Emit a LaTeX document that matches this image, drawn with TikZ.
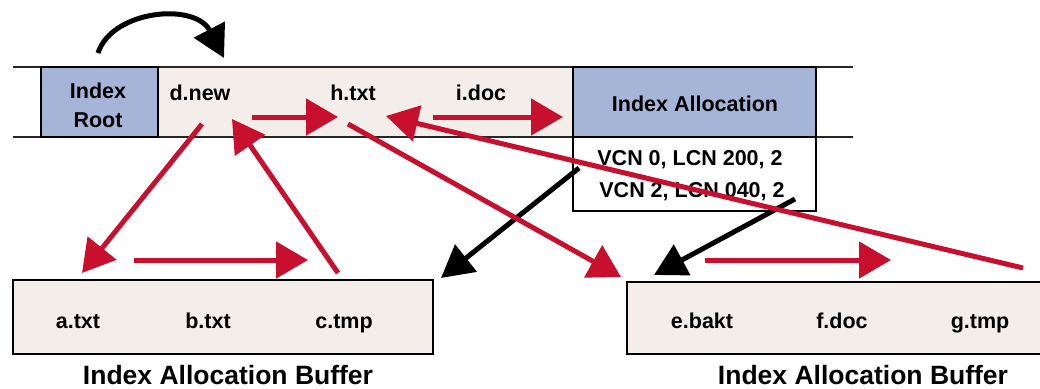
\documentclass[tikz,border=0pt]{standalone}
\usepackage{fontspec}
\setmainfont{Liberation Sans}
\usetikzlibrary{arrows.meta}
\definecolor{rootblue}{HTML}{A4B5D7}
\definecolor{beigefill}{HTML}{F3EEE9}
\definecolor{arrred}{HTML}{C8102E}
\begin{document}
\begin{tikzpicture}[x=1pt,y=-1pt,
  txt/.style={inner sep=0pt, anchor=base, font=\bfseries\fontsize{21.5}{26}\selectfont},
  caption/.style={inner sep=0pt, anchor=base, font=\bfseries\fontsize{26.5}{30}\selectfont},
  cell/.style={draw=black, line width=1.5pt, inner sep=0pt},
  band/.style={draw=black!85, line width=2pt},
  redarrow/.style={draw=arrred, line width=5pt, -{Triangle[length=32pt,width=36pt]}},
  blackarrow/.style={draw=black, line width=5pt, -{Triangle[length=32pt,width=34pt]}}]
\useasboundingbox (0,0) rectangle (1040,388);
% top band
\node[fill=beigefill, minimum width=415pt, minimum height=70pt, inner sep=0pt] (mid) at (365.5,102) {};
\draw[band] (13,67) -- (853,67);
\draw[band] (13,137) -- (853,137);
\node[cell, fill=rootblue, minimum width=117pt, minimum height=70pt] (root) at (99.5,102) {};
\node[cell, fill=rootblue, minimum width=243pt, minimum height=70pt] (ia) at (694.5,102) {};
\node[cell, fill=white, minimum width=243pt, minimum height=74pt] (vcn) at (694.5,174) {};
\node[txt] (rootA) at (98,98) {Index};
\node[txt] (rootB) at (98,127) {Root};
\node[txt] (iatxt) at (695,111) {Index Allocation};
\node[txt] (vcnA) at (690,165) {VCN 0, LCN 200, 2};
\node[txt] (vcnB) at (692,197) {VCN 2, LCN 040, 2};
\node[txt] (dnew) at (200,100) {d.new};
\node[txt] (htxt) at (353,100) {h.txt};
\node[txt] (idoc) at (481,100) {i.doc};
% bottom buffers
\node[cell, fill=beigefill, minimum width=420pt, minimum height=74pt] (bufL) at (223,317) {};
\node[txt] (atxt) at (78,328) {a.txt};
\node[txt] (btxt) at (208,328) {b.txt};
\node[txt] (ctmp) at (344,328) {c.tmp};
\node[caption] (capL) at (228,384) {Index Allocation Buffer};
\node[cell, fill=beigefill, minimum width=418pt, minimum height=72pt] (bufR) at (836,318) {};
\node[txt] (ebakt) at (702,328) {e.bakt};
\node[txt] (fdoc) at (842,328) {f.doc};
\node[txt] (gtmp) at (980,328) {g.tmp};
\node[caption] (capR) at (863,384) {Index Allocation Buffer};
% endpoints
\coordinate (rootTop) at (98,53);
\coordinate (dnewIn) at (224,58);
\coordinate (dnewOut) at (202,124);
\coordinate (aIn) at (82,273);
\coordinate (cOut) at (338,273);
\coordinate (dnewIn2) at (232,119);
\coordinate (aOut) at (134,260);
\coordinate (cIn) at (308,260);
\coordinate (dnewR) at (252,117);
\coordinate (htxtL) at (338,117);
\coordinate (idocR) at (433,117);
\coordinate (iaL) at (563,117);
\coordinate (gOut) at (1023,268);
\coordinate (htxtR) at (386,116);
\coordinate (htxtOut) at (348,124);
\coordinate (eIn) at (621,277);
\coordinate (eOut) at (705,260);
\coordinate (fIn) at (891,260);
\coordinate (vcn0) at (579,168);
\coordinate (bufLIn) at (441,278);
\coordinate (vcn2) at (795,199);
\coordinate (bufRIn) at (654,275);
% black arrows
\draw[blackarrow] (rootTop) .. controls (112,10) and (195,2) .. (dnewIn);
\draw[blackarrow] (vcn0) -- (bufLIn);
\draw[blackarrow] (vcn2) -- (bufRIn);
% red arrows
\draw[redarrow] (dnewOut) -- (aIn);
\draw[redarrow] (cOut) -- (dnewIn2);
\draw[redarrow] (aOut) -- (cIn);
\draw[redarrow] (dnewR) -- (htxtL);
\draw[redarrow] (idocR) -- (iaL);
\draw[redarrow] (gOut) -- (htxtR);
\draw[redarrow] (htxtOut) -- (eIn);
\draw[redarrow] (eOut) -- (fIn);
\end{tikzpicture}
\end{document}
